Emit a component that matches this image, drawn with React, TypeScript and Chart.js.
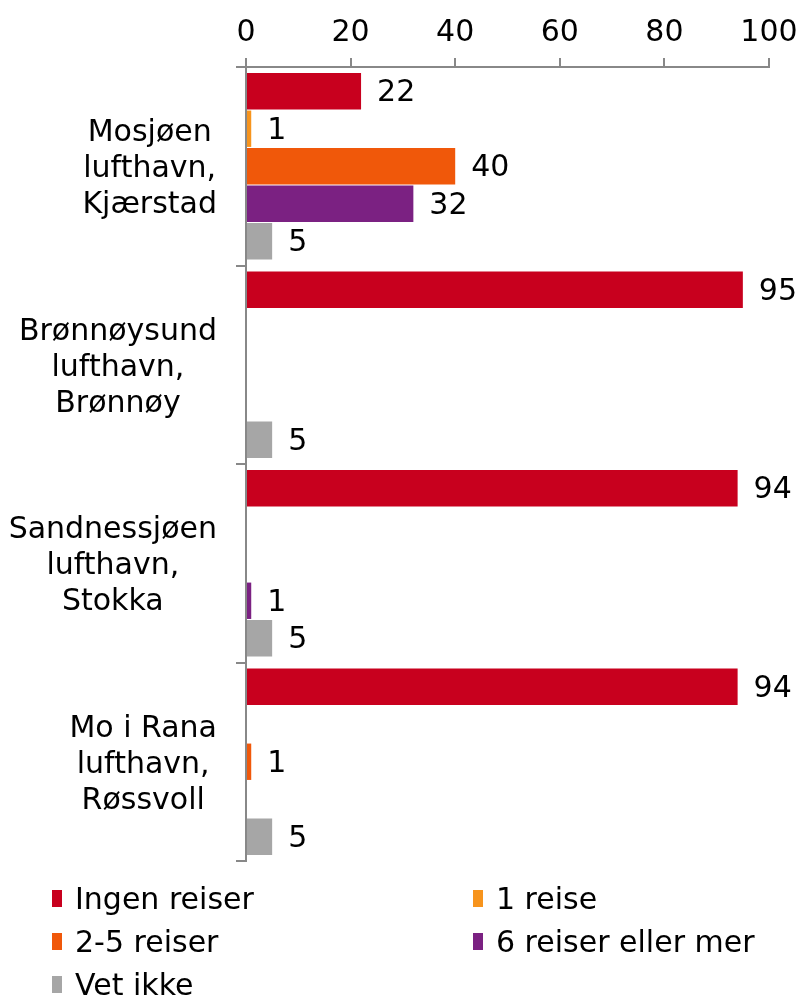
import React, { useEffect, useRef } from "react";
import { Chart, registerables } from "chart.js";

Chart.register(...registerables);

const categories: string[][] = [
  ["Mosjøen", "lufthavn,", "Kjærstad"],
  ["Brønnøysund", "lufthavn,", "Brønnøy"],
  ["Sandnessjøen", "lufthavn,", "Stokka"],
  ["Mo i Rana", "lufthavn,", "Røssvoll"],
];
const seriesNames = ["Ingen reiser", "1 reise", "2-5 reiser", "6 reiser eller mer", "Vet ikke"];
const seriesColors = ["#C8001E", "#F7941D", "#F0580A", "#7B2182", "#A6A6A6"];
const ingenReiser = [22, 95, 94, 94];
const enReise = [1, null, null, null];
const toFemReiser = [40, null, null, 1];
const seksEllerMer = [32, null, 1, null];
const vetIkke = [5, 5, 5, 5];
const xMin = 0;
const xMax = 100;
const xStep = 20;

const FONT = "'DejaVu Sans', Verdana, sans-serif";
const FS = 30;

const valueLabelPlugin = {
  id: "valueLabels",
  afterDatasetsDraw(chart: any) {
    const ctx = chart.ctx;
    ctx.save();
    ctx.font = `${FS}px ${FONT}`;
    ctx.fillStyle = "#000";
    ctx.textAlign = "left";
    ctx.textBaseline = "middle";
    chart.data.datasets.forEach((ds: any, di: number) => {
      const meta = chart.getDatasetMeta(di);
      meta.data.forEach((el: any, i: number) => {
        const v = ds.data[i];
        if (v === null || v === undefined) return;
        ctx.fillText(String(v), el.x + 16, el.y + 2);
      });
    });
    ctx.restore();
  },
};

const catLabelPlugin = {
  id: "catLabels",
  afterDraw(chart: any) {
    const ctx = chart.ctx;
    const y = chart.scales.y;
    ctx.save();
    ctx.font = `${FS}px ${FONT}`;
    ctx.fillStyle = "#000";
    ctx.textAlign = "center";
    ctx.textBaseline = "middle";
    const rightEdge = y.right - 29;
    const lh = 36;
    categories.forEach((lines, i) => {
      const cy = y.getPixelForTick(i);
      const widest = Math.max(...lines.map((l) => ctx.measureText(l).width));
      const cx = rightEdge - widest / 2;
      lines.forEach((l, j) => {
        ctx.fillText(l, cx, cy + 3 + (j - (lines.length - 1) / 2) * lh);
      });
    });
    ctx.restore();
  },
};

export default function App() {
  const ref = useRef<HTMLCanvasElement>(null);
  useEffect(() => {
    if (!ref.current) return;
    const series = [ingenReiser, enReise, toFemReiser, seksEllerMer, vetIkke];
    const chart = new Chart(ref.current, {
      type: "bar",
      data: {
        labels: categories as any,
        datasets: series.map((d, i) => ({
          label: seriesNames[i],
          data: d as any,
          backgroundColor: seriesColors[i],
          borderWidth: 0,
          barPercentage: 0.97,
          categoryPercentage: 0.945,
        })),
      },
      options: {
        indexAxis: "y",
        responsive: false,
        animation: false,
        maintainAspectRatio: false,
        layout: { padding: { left: 0, right: 29, top: 0, bottom: 136 } },
        plugins: {
          legend: { display: false },
          tooltip: { enabled: false },
        },
        scales: {
          x: {
            position: "top",
            min: xMin,
            max: xMax,
            ticks: { stepSize: xStep, color: "#000", font: { family: FONT, size: FS }, padding: 7 },
            grid: { drawOnChartArea: false, tickLength: 9, color: "#888", lineWidth: 2 },
            border: { display: true, color: "#888", width: 2 },
            afterFit: (s: any) => {
              s.height = 67;
              s.paddingRight = 0;
              s.paddingLeft = 0;
            },
          },
          y: {
            ticks: { display: false },
            grid: { drawOnChartArea: false, tickLength: 10, color: "#888", lineWidth: 2, offset: true },
            border: { display: true, color: "#888", width: 2 },
            afterFit: (s: any) => {
              s.width = 246;
            },
          },
        },
      },
      plugins: [valueLabelPlugin, catLabelPlugin],
    });
    return () => chart.destroy();
  }, []);

  const legendItems = seriesNames.map((n, i) => (
    <div
      key={n}
      style={{
        position: "absolute",
        left: i % 2 === 0 ? 52 : 473,
        top: 877 + Math.floor(i / 2) * 43,
        height: 42,
        display: "flex",
        alignItems: "center",
        whiteSpace: "nowrap",
      }}
    >
      <span style={{ display: "inline-block", width: 10, height: 17, background: seriesColors[i], marginRight: 13 }} />
      <span style={{ fontFamily: FONT, fontSize: FS, color: "#000" }}>{n}</span>
    </div>
  ));

  return (
    <div style={{ position: "fixed", left: 0, top: 0, width: 798, height: 997, background: "#fff" }}>
      <canvas ref={ref} width={798} height={997} style={{ position: "absolute", left: 0, top: 0 }} />
      {legendItems}
    </div>
  );
}
